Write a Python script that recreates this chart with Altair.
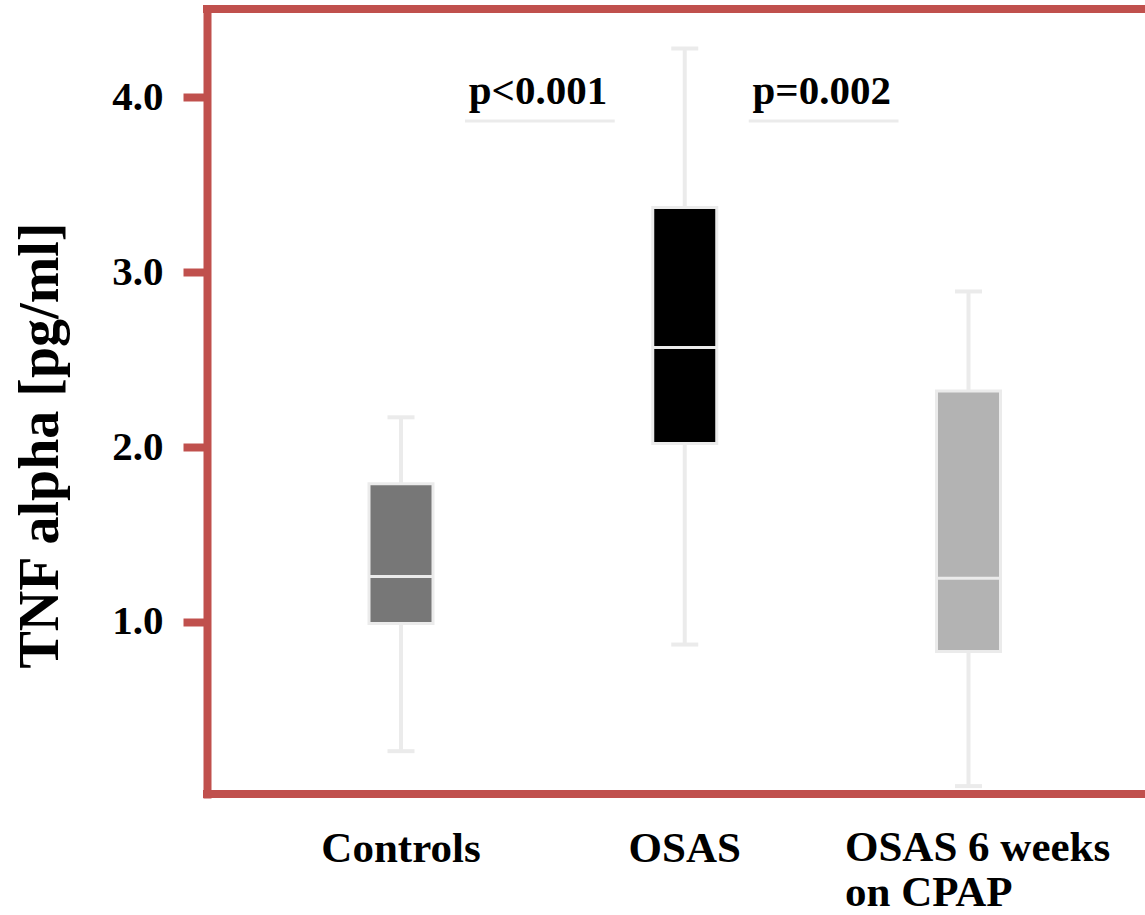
import altair as alt
import pandas as pd

# Box-plot summary per group (TNF alpha, pg/ml)
groups = ["Controls", "OSAS", "OSAS 6 weeks on CPAP"]
whisker_low = [0.26, 0.87, 0.06]
q1 = [0.99, 2.02, 0.83]
median = [1.26, 2.57, 1.25]
q3 = [1.79, 3.37, 2.32]
whisker_high = [2.17, 4.28, 2.89]
box_colors = ["#777777", "#000000", "#b3b3b3"]

# Group labels shown under the plot
centered_labels = ["Controls", "OSAS"]
wrapped_label_group = "OSAS 6 weeks on CPAP"
wrapped_label_text = "OSAS 6 weeks\non CPAP"

# Pairwise comparisons
comp_from = ["Controls", "OSAS"]
comp_to = ["OSAS", "OSAS 6 weeks on CPAP"]
p_labels = ["p<0.001", "p=0.002"]

y_ticks = [1.0, 2.0, 3.0, 4.0]

RED = "#c0504d"
PALE = "#ebebeb"
FONT = "Liberation Serif"
W, H = 938, 785

boxes = pd.DataFrame({
    "group": groups, "low": whisker_low, "q1": q1,
    "median": median, "q3": q3, "high": whisker_high,
})
comps = pd.DataFrame({"from": comp_from, "to": comp_to, "p": p_labels})
lab_center = pd.DataFrame({"group": centered_labels})
lab_wrapped = pd.DataFrame({"group": [wrapped_label_group], "text": [wrapped_label_text]})

xscale = alt.Scale(type="point", domain=groups, range=[194, 761.5], padding=0)
yscale = alt.Scale(domain=[0.015, 4.506], nice=False, zero=False)

yaxis = alt.Axis(
    values=y_ticks, format=".1f", grid=False,
    domainColor=RED, domainWidth=8, domainCap="square",
    tickColor=RED, tickWidth=8, tickSize=24,
    labelFont=FONT, labelFontSize=41, labelFontWeight="bold",
    labelColor="black", labelPadding=20,
    title="TNF alpha [pg/ml]", titleFont=FONT, titleFontSize=56,
    titleFontWeight="bold", titleColor="black",
    titleAngle=270, titleAlign="center", titleBaseline="middle",
    titleX=-167, titleY=436,
)

X = alt.X("group:N", scale=xscale, axis=None)

whiskers = alt.Chart(boxes).mark_rule(color=PALE, strokeWidth=4).encode(
    x=X,
    y=alt.Y("low:Q", scale=yscale, axis=yaxis),
    y2="high:Q",
)
cap_low = alt.Chart(boxes).mark_tick(color=PALE, thickness=4, size=27, opacity=1).encode(
    x=X, y=alt.Y("low:Q", scale=yscale)
)
cap_high = alt.Chart(boxes).mark_tick(color=PALE, thickness=4, size=27, opacity=1).encode(
    x=X, y=alt.Y("high:Q", scale=yscale)
)
box = alt.Chart(boxes).mark_bar(size=64, stroke=PALE, strokeWidth=3, opacity=1).encode(
    x=X,
    y=alt.Y("q1:Q", scale=yscale),
    y2="q3:Q",
    color=alt.Color("group:N", scale=alt.Scale(domain=groups, range=box_colors), legend=None),
)
med = alt.Chart(boxes).mark_tick(color=PALE, thickness=3, size=66, opacity=1).encode(
    x=X, y=alt.Y("median:Q", scale=yscale)
)

# Category labels below the frame
xlab_center = alt.Chart(lab_center).mark_text(
    font=FONT, fontSize=43, fontWeight="bold", color="black",
    align="center", baseline="alphabetic",
).encode(x=X, y=alt.value(H + 68), text="group:N")
xlab_wrapped = alt.Chart(lab_wrapped).mark_text(
    font=FONT, fontSize=43, fontWeight="bold", color="black",
    align="left", baseline="alphabetic", lineBreak="\n", lineHeight=45, dx=-123.5,
).encode(x=X, y=alt.value(H + 67), text="text:N")

# Significance annotations
p_line = alt.Chart(comps).mark_rule(color=PALE, strokeWidth=3, xOffset=64, x2Offset=-70).encode(
    x=alt.X("from:N", scale=xscale, axis=None),
    x2="to:N",
    y=alt.datum(3.865, scale=yscale),
)
p_text = alt.Chart(comps).mark_text(
    font=FONT, fontSize=41, fontWeight="bold", color="black",
    align="center", baseline="alphabetic", dx=137,
).encode(
    x=alt.X("from:N", scale=xscale, axis=None),
    y=alt.datum(3.965, scale=yscale),
    text="p:N",
)

# Frame: top and bottom edges (left edge is the y-axis line)
frame_top = alt.Chart(boxes).mark_rule(color=RED, strokeWidth=8).encode(
    x=alt.value(-4), x2=alt.value(W + 10), y=alt.value(0)
)
frame_bottom = alt.Chart(boxes).mark_rule(color=RED, strokeWidth=8).encode(
    x=alt.value(-4), x2=alt.value(W + 10), y=alt.value(H)
)

chart = alt.layer(
    whiskers, cap_low, cap_high, box, med,
    p_line, p_text, xlab_center, xlab_wrapped,
    frame_top, frame_bottom,
).properties(
    width=W, height=H,
    autosize=alt.AutoSizeParams(type="none"),
    padding={"left": 207, "top": 9, "right": 0, "bottom": 121},
    background="white",
).configure_view(stroke=None)

chart.save("out.html", embed_options={"renderer": "svg", "actions": False})
